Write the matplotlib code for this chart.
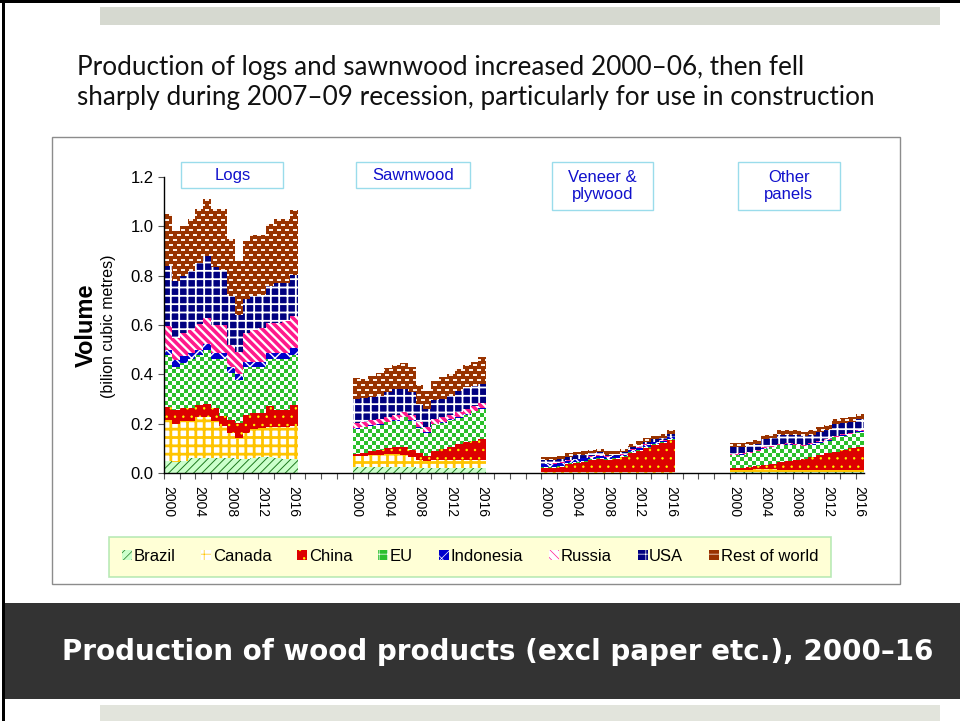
import numpy as np
import matplotlib
matplotlib.use('Agg')
import matplotlib.pyplot as plt
from matplotlib.patches import Patch, Rectangle
from matplotlib.colors import to_rgb
from matplotlib.transforms import blended_transform_factory

W, H = 960, 721

years = list(range(2000, 2017))
label_years = [2000, 2004, 2008, 2012, 2016]
groups = ['Logs', 'Sawnwood', 'Veneer &\nplywood', 'Other\npanels']
countries = ['Brazil', 'Canada', 'China', 'EU', 'Indonesia', 'Russia', 'USA', 'Rest of world']

# billion m3, one row per country (same order as countries)
logs = [
    [0.050, 0.045, 0.050, 0.060, 0.060, 0.060, 0.060, 0.060, 0.060, 0.055, 0.055, 0.060, 0.065, 0.065, 0.060, 0.055, 0.055],
    [0.163, 0.153, 0.162, 0.152, 0.166, 0.166, 0.152, 0.131, 0.102, 0.087, 0.107, 0.118, 0.117, 0.121, 0.126, 0.131, 0.136],
    [0.053, 0.058, 0.050, 0.050, 0.049, 0.053, 0.050, 0.040, 0.053, 0.059, 0.073, 0.064, 0.060, 0.084, 0.071, 0.071, 0.084],
    [0.212, 0.175, 0.185, 0.199, 0.203, 0.219, 0.202, 0.233, 0.192, 0.176, 0.196, 0.189, 0.189, 0.191, 0.204, 0.204, 0.203],
    [0.022, 0.027, 0.027, 0.024, 0.022, 0.025, 0.021, 0.021, 0.024, 0.024, 0.020, 0.020, 0.020, 0.024, 0.024, 0.024, 0.027],
    [0.095, 0.089, 0.093, 0.095, 0.105, 0.105, 0.115, 0.115, 0.089, 0.089, 0.116, 0.129, 0.137, 0.123, 0.123, 0.130, 0.130],
    [0.243, 0.230, 0.233, 0.238, 0.246, 0.250, 0.234, 0.224, 0.196, 0.152, 0.140, 0.136, 0.132, 0.152, 0.162, 0.155, 0.169],
    [0.212, 0.203, 0.200, 0.212, 0.219, 0.232, 0.236, 0.246, 0.234, 0.218, 0.233, 0.249, 0.245, 0.250, 0.260, 0.260, 0.261],
]
sawnwood = [
    [0.024, 0.024, 0.024, 0.024, 0.024, 0.024, 0.024, 0.024, 0.022, 0.021, 0.022, 0.022, 0.022, 0.022, 0.022, 0.021, 0.021],
    [0.046, 0.046, 0.048, 0.050, 0.052, 0.052, 0.050, 0.042, 0.032, 0.027, 0.029, 0.030, 0.030, 0.030, 0.030, 0.030, 0.030],
    [0.008, 0.012, 0.016, 0.020, 0.024, 0.028, 0.030, 0.029, 0.026, 0.021, 0.040, 0.046, 0.055, 0.066, 0.073, 0.080, 0.085],
    [0.100, 0.103, 0.104, 0.101, 0.105, 0.108, 0.122, 0.117, 0.103, 0.093, 0.106, 0.105, 0.107, 0.106, 0.112, 0.119, 0.123],
    [0.003, 0.003, 0.003, 0.003, 0.003, 0.003, 0.003, 0.003, 0.003, 0.003, 0.003, 0.003, 0.003, 0.003, 0.003, 0.003, 0.003],
    [0.020, 0.020, 0.020, 0.020, 0.020, 0.020, 0.020, 0.020, 0.020, 0.020, 0.020, 0.020, 0.020, 0.020, 0.020, 0.020, 0.020],
    [0.098, 0.095, 0.095, 0.094, 0.102, 0.105, 0.091, 0.095, 0.074, 0.074, 0.074, 0.072, 0.077, 0.087, 0.088, 0.081, 0.079],
    [0.085, 0.077, 0.082, 0.092, 0.094, 0.098, 0.105, 0.100, 0.078, 0.073, 0.081, 0.090, 0.088, 0.088, 0.088, 0.094, 0.108],
]
veneer = [
    [0.002, 0.002, 0.002, 0.002, 0.002, 0.002, 0.002, 0.002, 0.002, 0.002, 0.002, 0.002, 0.002, 0.002, 0.002, 0.002, 0.002],
    [0.003, 0.003, 0.003, 0.003, 0.003, 0.003, 0.003, 0.003, 0.003, 0.003, 0.003, 0.003, 0.003, 0.003, 0.003, 0.003, 0.003],
    [0.014, 0.016, 0.020, 0.030, 0.036, 0.040, 0.046, 0.052, 0.047, 0.050, 0.058, 0.077, 0.086, 0.098, 0.108, 0.115, 0.128],
    [0.004, 0.004, 0.004, 0.004, 0.004, 0.004, 0.004, 0.004, 0.004, 0.004, 0.004, 0.004, 0.004, 0.004, 0.004, 0.004, 0.004],
    [0.012, 0.012, 0.011, 0.011, 0.010, 0.010, 0.010, 0.009, 0.008, 0.008, 0.008, 0.008, 0.008, 0.007, 0.007, 0.007, 0.007],
    [0.003, 0.003, 0.003, 0.003, 0.003, 0.003, 0.003, 0.003, 0.003, 0.003, 0.003, 0.003, 0.003, 0.003, 0.003, 0.003, 0.003],
    [0.013, 0.012, 0.012, 0.013, 0.013, 0.013, 0.012, 0.011, 0.008, 0.007, 0.007, 0.008, 0.008, 0.008, 0.009, 0.009, 0.010],
    [0.013, 0.011, 0.012, 0.014, 0.014, 0.015, 0.015, 0.015, 0.015, 0.012, 0.014, 0.013, 0.014, 0.015, 0.016, 0.016, 0.016],
]
other_panels = [
    [0.004, 0.004, 0.004, 0.004, 0.004, 0.004, 0.004, 0.004, 0.004, 0.004, 0.004, 0.004, 0.004, 0.004, 0.004, 0.004, 0.004],
    [0.010, 0.010, 0.010, 0.011, 0.011, 0.011, 0.010, 0.009, 0.008, 0.008, 0.008, 0.009, 0.009, 0.009, 0.009, 0.009, 0.009],
    [0.005, 0.007, 0.010, 0.013, 0.017, 0.023, 0.030, 0.037, 0.041, 0.046, 0.053, 0.059, 0.067, 0.074, 0.082, 0.089, 0.094],
    [0.054, 0.054, 0.056, 0.060, 0.066, 0.067, 0.068, 0.064, 0.059, 0.050, 0.050, 0.050, 0.050, 0.058, 0.057, 0.056, 0.060],
    [0.002, 0.002, 0.002, 0.002, 0.002, 0.002, 0.002, 0.002, 0.002, 0.002, 0.002, 0.002, 0.002, 0.002, 0.002, 0.002, 0.002],
    [0.004, 0.004, 0.004, 0.004, 0.004, 0.004, 0.004, 0.004, 0.004, 0.004, 0.004, 0.004, 0.004, 0.004, 0.004, 0.004, 0.004],
    [0.027, 0.025, 0.026, 0.024, 0.032, 0.031, 0.036, 0.036, 0.036, 0.035, 0.035, 0.039, 0.038, 0.046, 0.043, 0.042, 0.046],
    [0.014, 0.014, 0.015, 0.016, 0.018, 0.018, 0.020, 0.020, 0.020, 0.018, 0.018, 0.018, 0.020, 0.020, 0.020, 0.022, 0.022],
]
products = [logs, sawnwood, veneer, other_panels]

# fill styles: face, hatch colour, hatch, hatch width (pt)
styles = [
    ('#CCFFCC', '#1E7A1E', '////', 0.7),
    ('#FFFFFF', '#FFC400', '++', 2.0),
    ('#DD0000', '#FFFF00', '..', 0.5),
    ('#2CC02C', '#2CC02C', None, 0.5),   # checkerboard texture
    ('#0000CC', '#FFFFFF', 'xx', 1.0),
    ('#FFFFFF', '#FF1A8C', '\\\\\\\\', 2.6),
    ('#000080', '#FFFFFF', '++', 1.3),
    ('#993300', '#993300', None, 0.5),   # brick texture
]

SLOT = 24  # categories per product block (17 years + gap)


def checker_tile(color):
    c = np.array(to_rgb(color))
    t = np.ones((8, 8, 3))
    t[:4, :4] = c
    t[4:, 4:] = c
    return t


def brick_tile(color):
    t = np.tile(np.array(to_rgb(color)), (10, 8, 1))
    dash = np.array(to_rgb('#FFF4EC'))
    t[2:4, 1:5] = dash
    t[7:9, 5:8] = dash
    t[7:9, 0] = dash
    return t


def texture_fill(ax, coll, tile):
    bb = ax.bbox
    nx, ny = int(round(bb.width)), int(round(bb.height))
    th, tw = tile.shape[:2]
    img = np.tile(tile, (ny // th + 1, nx // tw + 1, 1))[:ny, :nx]
    x0, x1 = ax.get_xlim()
    y0, y1 = ax.get_ylim()
    im = ax.imshow(img, extent=(x0, x1, y0, y1), aspect='auto',
                   interpolation='nearest', zorder=1)
    im.set_clip_path(coll.get_paths()[0], coll.get_transform())


def px_rect(x0, y0, x1, y1, **kw):
    return Rectangle((x0 / W, 1 - y1 / H), (x1 - x0) / W, (y1 - y0) / H,
                     transform=fig.transFigure, **kw)


fig = plt.figure(figsize=(W / 100, H / 100), dpi=100)
fig.patch.set_facecolor('white')

# slide furniture
fig.add_artist(px_rect(0, 0, W, 3, facecolor='black', lw=0))
fig.add_artist(px_rect(2, 0, 5, H, facecolor='black', lw=0))
fig.add_artist(px_rect(100, 7, 940, 25, facecolor='#D6D9D0', lw=0))
fig.add_artist(px_rect(5, 603, W, 699, facecolor='#333333', lw=0))
fig.add_artist(px_rect(100, 705, 940, H, facecolor='#E2E4DC', lw=0))
fig.add_artist(px_rect(52, 137, 900, 584, facecolor='none', edgecolor='#8C8C8C', lw=1))

fig.text(77 / W, 1 - 82 / H,
         'Production of logs and sawnwood increased 2000\u201306, then fell\n'
         'sharply during 2007\u201309 recession, particularly for use in construction',
         fontsize=18.8, family='Lato', color='#111111', ha='left', va='center',
         linespacing=1.25)
fig.text(498 / W, 1 - 652 / H,
         'Production of wood products (excl paper etc.), 2000\u201316',
         fontsize=20, family='DejaVu Sans', weight='bold', color='white',
         ha='center', va='center')

ax = fig.add_axes([164 / W, 1 - 473 / H, 699.5 / W, 296 / H])
ax.set_xlim(-0.5, 3 * SLOT + 16.5)
ax.set_ylim(0, 1.2)

for g, data in enumerate(products):
    x = np.arange(len(years) + 1) + g * SLOT - 0.5
    base = np.zeros(len(years))
    for i, row in enumerate(data):
        top = base + np.array(row)
        face, hcol, hatch, hlw = styles[i]
        plt.rcParams['hatch.linewidth'] = hlw
        coll = ax.fill_between(x, np.append(base, base[-1]), np.append(top, top[-1]),
                               step='post', facecolor=face, edgecolor=hcol,
                               hatch=hatch, lw=0, zorder=1)
        if hasattr(coll, 'set_hatch_linewidth'):
            coll.set_hatch_linewidth(hlw)
        if i == 3:
            texture_fill(ax, coll, checker_tile(face))
        elif i == 7:
            texture_fill(ax, coll, brick_tile(face))
        base = top

ax.set_xlim(-0.5, 3 * SLOT + 16.5)
ax.set_ylim(0, 1.2)

# product labels in boxes above each block
trans = blended_transform_factory(ax.transData, ax.transAxes)
box_x = [8.2, SLOT + 7.2, 2 * SLOT + 7.3, 3 * SLOT + 7.0]
box_w = [13.0, 14.5, 12.9, 13.0]
for name, bx, bw in zip(groups, box_x, box_w):
    bh = 0.088 if '\n' not in name else 0.162
    ax.add_patch(Rectangle((bx - bw / 2, 1.0507 - bh), bw, bh, transform=trans,
                           facecolor='white', edgecolor='#9ADCEB', lw=1,
                           clip_on=False, zorder=3))
    ax.text(bx, 1.0507 - bh / 2, name, transform=trans, ha='center', va='center',
            fontsize=12, family='Liberation Sans', color='#1010CC',
            linespacing=1.15, zorder=4)

for s in ['top', 'right']:
    ax.spines[s].set_visible(False)
ax.spines['left'].set_linewidth(1.0)
ax.spines['bottom'].set_linewidth(1.0)

ax.set_yticks(np.arange(0, 1.21, 0.2))
ax.set_yticklabels(['%.1f' % v for v in np.arange(0, 1.21, 0.2)],
                   fontsize=12, family='Liberation Sans')
ax.set_xticks(np.arange(-0.5, 3 * SLOT + 16.5, 2))
ax.set_xticklabels([])
lab_pos = [g * SLOT + (yr - 2000) for g in range(4) for yr in label_years]
ax.set_xticks(lab_pos, minor=True)
ax.set_xticklabels([str(yr) for g in range(4) for yr in label_years], minor=True,
                   rotation=-90, fontsize=10, family='Liberation Sans')
ax.tick_params(which='major', direction='out', length=4, width=0.8, color='#555555')
ax.tick_params(axis='x', which='minor', length=0, pad=9)

fig.text(86 / W, 1 - 325 / H, 'Volume', rotation=90, fontsize=17, weight='bold',
         family='Liberation Sans', ha='center', va='center')
fig.text(109 / W, 1 - 326 / H, '(bilion cubic metres)', rotation=90, fontsize=11.5,
         family='Liberation Sans', ha='center', va='center')

handles = []
for i, name in enumerate(countries):
    face, hcol, hatch, hlw = styles[i]
    if i == 3:
        hcol, hatch = '#FFFFFF', '++'
    elif i == 7:
        hcol, hatch = '#FFF4EC', '--'
    handles.append(Patch(facecolor=face, edgecolor=hcol, hatch=hatch, lw=0, label=name))
leg = fig.legend(handles=handles, loc='center', bbox_to_anchor=(470 / W, 1 - 556.5 / H),
                 ncol=8, frameon=True, fancybox=False, handlelength=0.6, handleheight=0.6,
                 handletextpad=0.1, columnspacing=1.55, borderpad=0.75,
                 prop={'family': 'Liberation Sans', 'size': 12})
leg.get_frame().set_facecolor('#FFFFCC')
leg.get_frame().set_edgecolor('#A8E4A8')
leg.get_frame().set_linewidth(1.2)

fig.savefig('out.png', dpi=100)
